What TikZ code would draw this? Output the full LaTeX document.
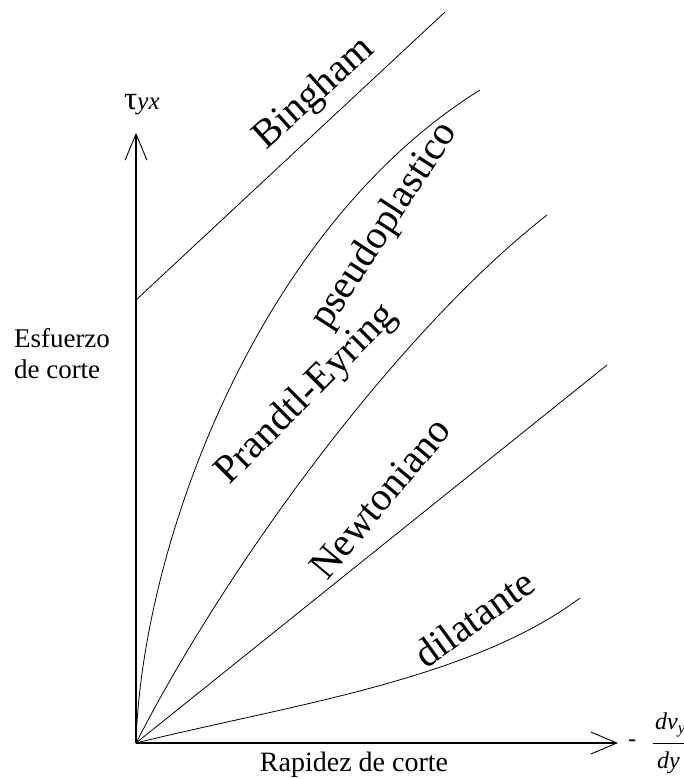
\documentclass[tikz,border=0pt]{standalone}
\usepackage{fontspec}
\setmainfont{Liberation Serif}
\usetikzlibrary{arrows.meta}
\begin{document}
\begin{tikzpicture}[x=1pt,y=-1pt,
  curve/.style={line width=0.8pt},
  axis/.style={line width=1.4pt,-{Straight Barb[length=26pt,width=22pt,line width=0.9pt]}},
  lbl/.style={font=\fontsize{40}{40}\selectfont,inner sep=0pt},
  axlbl/.style={font=\fontsize{27}{31}\selectfont,inner sep=0pt,align=left},
  frac/.style={font=\fontsize{24}{24}\selectfont\itshape,inner sep=0pt}]
\clip (0,0) rectangle (684,779);
\fill[white] (0,0) rectangle (684,779);

% axes
\coordinate (O) at (136,743);
\coordinate (ytip) at (136,133);
\coordinate (xtip) at (618,743);
\draw[axis] (O) -- (ytip);
\draw[axis] (O) -- (xtip);

% flow curves
\coordinate (by0) at (136,300);
\coordinate (bEnd) at (445,12);
\coordinate (pEnd) at (480,90);
\coordinate (peEnd) at (547,215);
\coordinate (nEnd) at (607,365);
\coordinate (dEnd) at (580,598);
\draw[curve] (by0) -- (bEnd);
\draw[curve] (O) .. controls (142,545) and (258,228) .. (pEnd);
\draw[curve] (O) .. controls (230,560) and (400,330) .. (peEnd);
\draw[curve] (O) -- (nEnd);
\draw[curve] (O) .. controls (290,705) and (470,680) .. (dEnd);

% curve labels
\node[lbl,rotate=42] (lb) at (315,94) {Bingham};
\node[lbl,rotate=57] (lp) at (385,226) {pseudoplastico};
\node[lbl,rotate=45] (lpe) at (307,395) {Prandtl-Eyring};
\node[lbl,rotate=50] (ln) at (380,498) {Newtoniano};
\node[lbl,rotate=36] (ld) at (474,618) {dilatante};

% axis titles
\node[inner sep=0pt,anchor=base west] (tau) at (124,109)
  {\fontsize{33}{33}\selectfont τ\fontsize{25}{25}\selectfont\itshape yx};
\node[axlbl] (ylab) at (62,354) {Esfuerzo\\de corte};
\node[axlbl,font=\fontsize{28}{31}\selectfont] (xlab) at (354,765) {Rapidez de corte};

% -dv_y/dy
\node[font=\fontsize{24}{24}\selectfont,inner sep=0pt] (minus) at (632,743) {-};
\node[frac,anchor=south west] (num) at (655,737) {dv\textsubscript{y}};
\node[frac,anchor=north west] (den) at (657,752) {dy};
\coordinate (barL) at (653,743);
\coordinate (barR) at (700,743);
\draw[line width=0.8pt] (barL) -- (barR);
\end{tikzpicture}
\end{document}
